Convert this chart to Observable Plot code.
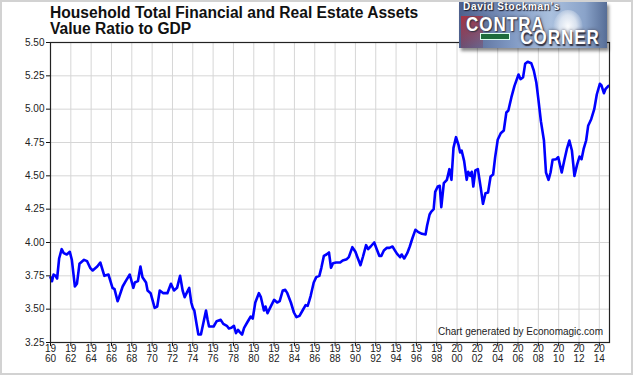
<!DOCTYPE html>
<html><head><meta charset="utf-8">
<script src="https://cdn.jsdelivr.net/npm/d3@7"></script>
<script src="https://cdn.jsdelivr.net/npm/@observablehq/plot@0.6"></script>
<style>
html,body{margin:0;padding:0;background:#fff;}
#wrap{position:relative;width:633px;height:375px;overflow:hidden;font-family:"Liberation Sans",Arial,sans-serif;background:#fff;}
#border{position:absolute;left:0;top:0;right:0;bottom:0;border:2px solid #d2d2d2;pointer-events:none;}
#title{position:absolute;left:50px;top:4.5px;font-weight:bold;font-size:15.6px;line-height:16px;color:#111;white-space:nowrap;}
#chart{position:absolute;left:0;top:40px;}
#credit{position:absolute;right:30px;top:327px;font-size:10px;line-height:10px;color:#222;white-space:nowrap;}
#logo{position:absolute;left:459px;top:2px;width:148px;height:46px;
  background:linear-gradient(to right,#4d5f8c 0%,#7f98c2 35%,#aac0de 62%,#8aa3c9 85%,#566d96 100%);
  box-shadow:2px 3px 3px rgba(0,0,0,0.45);}
#logo .dome{position:absolute;left:94px;top:8px;width:30px;height:36px;border-radius:50% 50% 8% 8%;
  background:radial-gradient(ellipse at 50% 45%,rgba(255,255,255,0.95) 0%,rgba(232,238,246,0.8) 40%,rgba(200,212,230,0) 72%);}
#logo .flag{position:absolute;left:2px;top:14px;width:22px;height:32px;
  background:linear-gradient(160deg,rgba(190,40,50,0.8),rgba(120,60,90,0.3));}
#logo .t1{position:absolute;left:4px;top:0px;font-size:10px;line-height:10px;font-weight:bold;color:#fff;
  text-shadow:0 0 2px #223,1px 1px 1px #223;letter-spacing:0.7px;white-space:nowrap;}
#logo .t2{position:absolute;left:7px;top:16.3px;font-size:17px;line-height:11.6px;font-weight:bold;color:#fff;
  text-shadow:1px 1px 1px #334,0 0 3px #445;letter-spacing:1px;word-spacing:0.3px;transform:scaleY(1.15);transform-origin:top left;white-space:pre;}
#logo .wall{position:absolute;left:21px;top:31px;width:28px;height:5px;background:#1e6b3c;border:1px solid #dfe;}
</style>
</head><body>
<div id="wrap">
  <div id="title">Household Total Financial and Real Estate Assets<br>Value Ratio to GDP</div>
  <div id="chart"></div>
  <div id="credit">Chart generated by Economagic.com</div>
  <div id="logo"><div class="flag"></div><div class="dome"></div><div class="t1">David Stockman's</div><div class="wall"></div><div class="t2">CONTRA
         CORNER</div></div>
  <div id="border"></div>
</div>
<script>
const years = [
1960.0,1960.15,1960.3,1960.5,1960.65,1960.85,1961.1,1961.3,1961.6,1961.9,
1962.1,1962.4,1962.6,1962.85,1963.3,1963.6,1963.9,1964.15,1964.6,1964.9,
1965.3,1965.7,1966.1,1966.3,1966.6,1966.75,1967.1,1967.4,1967.8,1968.15,
1968.3,1968.6,1968.85,1969.05,1969.4,1969.55,1969.85,1970.25,1970.5,1970.75,
1971.1,1971.5,1971.85,1972.15,1972.45,1972.75,1973.0,1973.2,1973.45,1973.65,
1973.85,1974.0,1974.15,1974.4,1974.55,1974.8,1975.05,1975.3,1975.45,1975.6,
1976.05,1976.35,1976.75,1977.0,1977.35,1977.55,1977.8,1978.05,1978.25,1978.45,
1978.6,1978.85,1979.05,1979.35,1979.7,1979.9,1980.15,1980.5,1980.7,1981.0,
1981.15,1981.35,1981.7,1982.0,1982.3,1982.55,1982.85,1983.1,1983.3,1983.65,
1983.95,1984.2,1984.5,1984.8,1985.1,1985.3,1985.45,1985.6,1985.9,1986.15,
1986.45,1986.65,1986.9,1987.15,1987.4,1987.6,1987.8,1988.1,1988.5,1988.75,
1989.15,1989.35,1989.7,1990.0,1990.2,1990.5,1990.75,1991.05,1991.25,1991.5,
1991.85,1992.1,1992.35,1992.55,1992.8,1993.1,1993.35,1993.65,1993.85,1994.1,
1994.4,1994.55,1994.8,1995.1,1995.35,1995.6,1995.9,1996.15,1996.55,1996.9,
1997.05,1997.3,1997.45,1997.7,1997.85,1998.1,1998.3,1998.45,1998.7,1999.0,
1999.25,1999.45,1999.65,1999.9,2000.15,2000.3,2000.45,2000.7,2000.95,2001.1,
2001.3,2001.45,2001.6,2001.8,2002.05,2002.35,2002.55,2002.8,2003.05,2003.3,
2003.55,2003.75,2004.0,2004.3,2004.6,2004.85,2005.05,2005.35,2005.65,2006.05,
2006.25,2006.5,2006.7,2006.95,2007.3,2007.55,2007.8,2008.0,2008.25,2008.55,
2008.75,2009.0,2009.2,2009.4,2009.75,2009.95,2010.3,2010.55,2010.8,2011.05,
2011.3,2011.55,2011.8,2012.05,2012.25,2012.45,2012.7,2012.9,2013.2,2013.5,
2013.75,2014.05,2014.2,2014.45,2014.6,2014.9
];
const ratios = [
3.74,3.71,3.76,3.75,3.73,3.88,3.95,3.92,3.91,3.93,
3.87,3.67,3.69,3.84,3.87,3.86,3.81,3.79,3.82,3.85,
3.75,3.76,3.66,3.65,3.56,3.59,3.67,3.71,3.76,3.66,
3.70,3.71,3.82,3.74,3.70,3.64,3.62,3.51,3.52,3.64,
3.62,3.62,3.69,3.64,3.66,3.75,3.64,3.59,3.63,3.66,
3.55,3.51,3.49,3.375,3.31,3.31,3.40,3.49,3.425,3.37,
3.37,3.41,3.42,3.39,3.375,3.355,3.36,3.375,3.32,3.345,
3.33,3.31,3.36,3.40,3.445,3.43,3.55,3.62,3.59,3.49,
3.52,3.47,3.525,3.57,3.55,3.56,3.64,3.645,3.62,3.55,
3.475,3.44,3.45,3.49,3.53,3.525,3.56,3.60,3.70,3.74,
3.75,3.81,3.90,3.91,3.925,3.81,3.845,3.85,3.85,3.865,
3.875,3.89,3.965,3.93,3.89,3.83,3.895,3.98,3.95,3.97,
4.00,3.95,3.90,3.90,3.94,3.96,3.96,3.97,3.945,3.915,
3.89,3.91,3.88,3.92,3.97,4.03,4.095,4.08,4.065,4.06,
4.125,4.21,4.23,4.25,4.38,4.42,4.425,4.265,4.445,4.47,
4.55,4.47,4.71,4.79,4.73,4.675,4.69,4.61,4.47,4.53,
4.50,4.53,4.42,4.54,4.55,4.40,4.29,4.37,4.375,4.495,
4.51,4.64,4.77,4.82,4.84,4.975,4.99,5.09,5.175,5.26,
5.225,5.24,5.34,5.355,5.345,5.29,5.20,5.075,4.91,4.765,
4.525,4.47,4.525,4.62,4.625,4.64,4.525,4.615,4.70,4.765,
4.69,4.50,4.58,4.645,4.625,4.70,4.765,4.875,4.925,5.00,
5.11,5.19,5.18,5.12,5.15,5.175
];
const xTicks = [1960,1962,1964,1966,1968,1970,1972,1974,1976,1978,1980,1982,1984,1986,1988,1990,1992,1994,1996,1998,2000,2002,2004,2006,2008,2010,2012,2014];
const yTicks = [3.25,3.50,3.75,4.00,4.25,4.50,4.75,5.00,5.25,5.50];

const data = years.map((y, i) => ({year: y, value: ratios[i]}));

const chart = Plot.plot({
  width: 633,
  height: 335,
  marginTop: 2,
  marginBottom: 33,
  marginLeft: 50,
  marginRight: 24,
  style: {fontFamily: '"Liberation Sans", Arial, sans-serif', fontSize: "10px", color: "#222", background: "transparent", overflow: "visible"},
  x: {domain: [1960, 2015]},
  y: {domain: [3.25, 5.5]},
  marks: [
    Plot.gridX(xTicks, {stroke: "#d6d6d6", strokeOpacity: 1, strokeWidth: 1}),
    Plot.gridY(yTicks, {stroke: "#d6d6d6", strokeOpacity: 1, strokeWidth: 1}),
    Plot.axisX(xTicks, {tickSize: 4, tickPadding: -2, stroke: "#111", fill: "#222", lineHeight: 1.05,
      tickFormat: d => String(d).slice(0, 2) + "\n" + String(d).slice(2), label: null}),
    Plot.axisY(yTicks, {tickSize: 4, tickPadding: 2, stroke: "#111", fill: "#222",
      tickFormat: d => d.toFixed(2), label: null}),
    Plot.line(data, {x: "year", y: "value", stroke: "#0000ff", strokeWidth: 2.6, strokeLinejoin: "round"}),
    Plot.frame({stroke: "#222", strokeWidth: 1.2})
  ]
});
document.getElementById("chart").appendChild(chart);
</script>
</body></html>
